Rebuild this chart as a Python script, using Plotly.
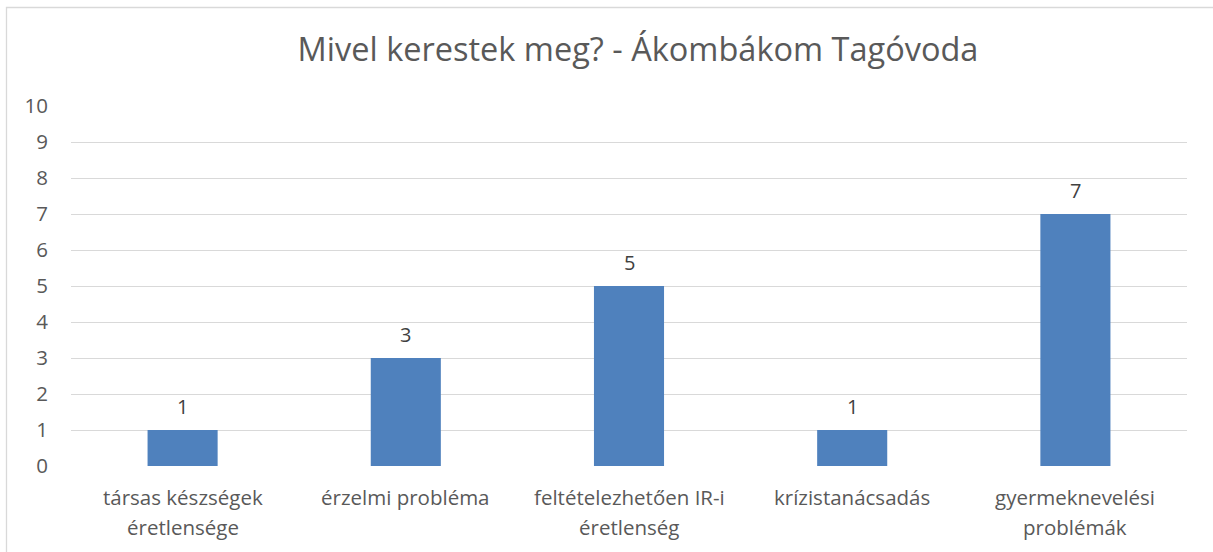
import plotly.graph_objects as go

categories = ["társas készségek\néretlensége", "érzelmi probléma", "feltételezhetően IR-i\néretlenség",
              "krízistanácsadás", "gyermeknevelési\nproblémák"]
values = [1, 3, 5, 1, 7]
y_ticks = list(range(0, 11))
title = "Mivel kerestek meg? - Ákombákom Tagóvoda"

FONT = "Open Sans"
GREY = "#595959"

W, H = 1213, 552
L, R, T, B = 71, 26, 106, 86
plot_w, plot_h = W - L - R, H - T - B

fig = go.Figure()
fig.add_trace(go.Bar(
    x=list(range(len(categories))), y=values,
    marker=dict(color="#4f81bd", line=dict(width=0)),
    hoverinfo="skip",
))

ann = []
for i, v in enumerate(values):
    ann.append(dict(x=i, y=v, xref="x", yref="y", text=str(v), showarrow=False,
                    yanchor="middle", yshift=24, font=dict(family=FONT, size=20, color="#404040")))
for i, c in enumerate(categories):
    for j, line in enumerate(c.split("\n")):
        ann.append(dict(x=i, y=-0.086 - 0.083 * j, xref="x", yref="paper", text=line, showarrow=False,
                        yanchor="middle", font=dict(family=FONT, size=20.5, color=GREY)))

fig.update_layout(
    width=W, height=H,
    margin=dict(l=L, r=R, t=T, b=B),
    paper_bgcolor="white", plot_bgcolor="white",
    bargap=0.686,
    showlegend=False,
    title=dict(text=title, x=(638 - L) / plot_w, xref="paper", xanchor="center",
               y=1 - 50 / H, yanchor="middle",
               font=dict(family=FONT, size=32.5, color=GREY)),
    xaxis=dict(range=[-0.5, len(categories) - 0.5], showticklabels=False, showgrid=False,
               zeroline=False, showline=False, fixedrange=True),
    yaxis=dict(range=[0, 10], tickvals=y_ticks, showgrid=True, gridcolor="#d9d9d9", gridwidth=1.3,
               zeroline=False, showline=False, ticklabelstandoff=22, fixedrange=True,
               tickfont=dict(family=FONT, size=20.5, color=GREY)),
    annotations=ann,
    shapes=[dict(type="rect", xref="paper", yref="paper",
                 x0=(6.5 - L) / plot_w, x1=(W + 20 - L) / plot_w,
                 y0=-(B + 20) / plot_h, y1=(H - B - 7.5) / plot_h,
                 line=dict(color="#d9d9d9", width=1.3), layer="below")],
)

fig.write_html("out.html", config={"displayModeBar": False},
               post_script="document.body.style.margin='0';")
